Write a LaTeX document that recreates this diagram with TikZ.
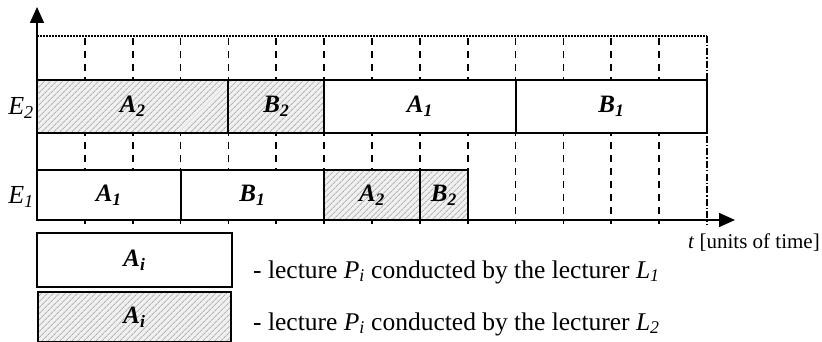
\documentclass[tikz,border=0pt]{standalone}
\usepackage{fontspec}
\setmainfont{Liberation Serif}
\usetikzlibrary{arrows.meta,patterns.meta}
\begin{document}
\begin{tikzpicture}[x=1pt,y=-1pt,
  lbl/.style={font=\fontsize{25}{25}\selectfont\bfseries\itshape},
  slotbase/.style={draw=black,line width=1.7pt,inner sep=0pt,outer sep=0pt,anchor=north west},
  slot/.style={slotbase,fill=white},
  hatch/.style={slotbase,preaction={fill=gray!12},preaction={pattern={Lines[angle=45,distance=4pt,line width=0.9pt]},pattern color=gray!60}},
  divider/.style={line width=2pt,line cap=rect},
  grid/.style={line width=1.6pt,dash pattern=on 7pt off 6pt},
  txt/.style={font=\fontsize{25.5}{25.5}\selectfont,anchor=west,inner sep=0pt}]
\useasboundingbox (0,0) rectangle (822,342);
\def\u{47.857}
% grid
\draw[line width=1.3pt,dash pattern=on 1.5pt off 1.5pt] (37,36) -- (707,36);
\foreach \k in {1,...,13} \draw[grid] (37+\k*\u,38) -- (37+\k*\u,224);
\draw[line width=1.4pt,dash pattern=on 7pt off 2pt on 1.5pt off 2pt] (707,36) -- (707,224);
% E2 row
\node[hatch,minimum width=4*\u,minimum height=53,lbl] (e2a2) at (37,80) {A\textsubscript{2}};
\node[hatch,minimum width=2*\u,minimum height=53,lbl] (e2b2) at (37+4*\u,80) {B\textsubscript{2}};
\node[slot,minimum width=4*\u,minimum height=53,lbl] (e2a1) at (37+6*\u,80) {A\textsubscript{1}};
\node[slot,minimum width=4*\u,minimum height=53,lbl] (e2b1) at (37+10*\u,80) {B\textsubscript{1}};
% E1 row
\node[slot,minimum width=3*\u,minimum height=50,lbl] (e1a1) at (37,170) {A\textsubscript{1}};
\node[slot,minimum width=3*\u,minimum height=50,lbl] (e1b1) at (37+3*\u,170) {B\textsubscript{1}};
\node[hatch,minimum width=2*\u,minimum height=50,lbl] (e1a2) at (37+6*\u,170) {A\textsubscript{2}};
\node[hatch,minimum width=1*\u,minimum height=50,lbl] (e1b2) at (37+8*\u,170) {B\textsubscript{2}};
% dividers between adjacent slots
\foreach \n in {e2a2,e2b2,e2a1,e1a1,e1b1,e1a2}
  \draw[divider] (\n.north east) -- (\n.south east);
% axes
\coordinate (o) at (37,220);
\coordinate (ytip) at (37,7);
\coordinate (xtip) at (735,220);
\draw[line width=1.6pt,-{Triangle[length=16pt,width=14pt]}] (o) -- (ytip);
\draw[line width=1.6pt,-{Triangle[length=16pt,width=14pt]}] (o) -- (xtip);
% row labels
\node[font=\fontsize{26}{26}\selectfont\itshape,anchor=east,inner sep=0pt] (le2) at (34,108) {E\textsubscript{2}};
\node[font=\fontsize{26}{26}\selectfont\itshape,anchor=east,inner sep=0pt] (le1) at (34,197) {E\textsubscript{1}};
\node[font=\fontsize{21}{21}\selectfont,anchor=east,inner sep=0pt] (tl) at (820,243) {\textit{t} [units of time]};
% legend
\node[slot,minimum width=195,minimum height=54,lbl] (lg1) at (37,233) {A\textsubscript{\itshape i}};
\node[hatch,minimum width=193,minimum height=50,lbl] (lg2) at (38,292) {A\textsubscript{\itshape i}};
\node[txt] (t1) at (253,272) {- lecture \textit{P\textsubscript{i}} conducted by the lecturer \textit{L\textsubscript{1}}};
\node[txt] (t2) at (253,324) {- lecture \textit{P\textsubscript{i}} conducted by the lecturer \textit{L\textsubscript{2}}};
\end{tikzpicture}
\end{document}
